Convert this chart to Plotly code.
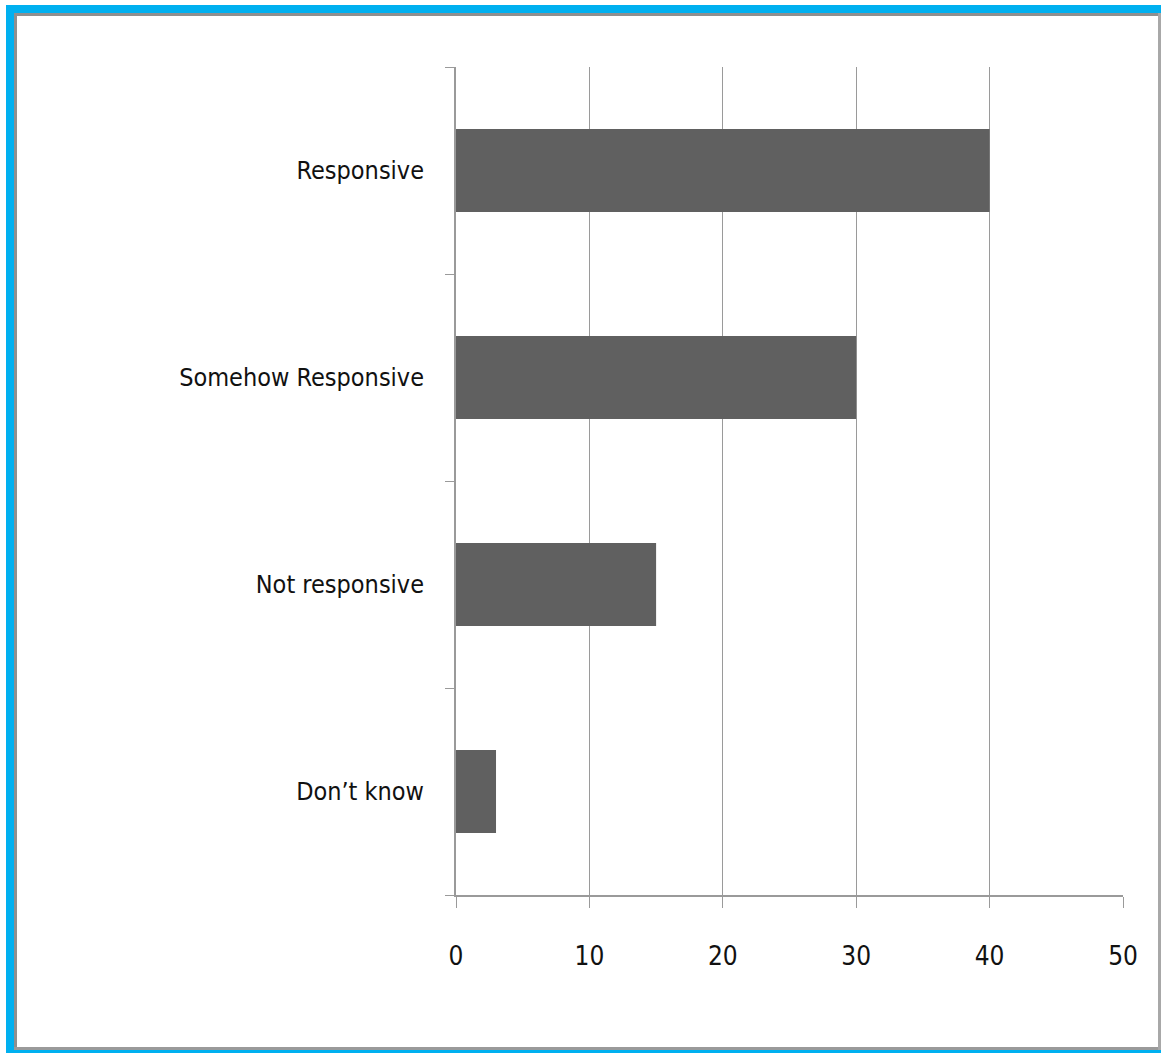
import plotly.graph_objects as go

# Survey responses: how responsive the service was
categories = ["Responsive", "Somehow Responsive", "Not responsive", "Don\u2019t know"]
values = [40, 30, 15, 3]
x_ticks = [0, 10, 20, 30, 40, 50]

W, H = 1161, 1053
L, R, T, B = 456, 1123, 67, 895  # plot area in pixels


def px(x):
    return (x - L) / (R - L)


def py(y):
    return (B - y) / (B - T)


fig = go.Figure(
    go.Bar(
        x=values,
        y=categories,
        orientation="h",
        marker=dict(color="#606060", line=dict(width=0)),
        width=0.4,
        hoverinfo="x+y",
    )
)

font_family = "DejaVu Sans Condensed, Liberation Sans Narrow, Liberation Sans, sans-serif"

fig.update_layout(
    width=W,
    height=H,
    margin=dict(l=L, r=W - R, t=T, b=H - B),
    paper_bgcolor="white",
    plot_bgcolor="white",
    showlegend=False,
    font=dict(family=font_family, size=25, color="#111111"),
    xaxis=dict(
        range=[0, 50],
        tickvals=x_ticks,
        ticktext=[str(v) for v in x_ticks],
        showgrid=True,
        gridcolor="#9a9a9a",
        gridwidth=1.2,
        zeroline=False,
        showline=True,
        linecolor="#9a9a9a",
        linewidth=2,
        ticks="outside",
        ticklen=11,
        tickcolor="#9a9a9a",
        tickfont=dict(size=26),
        ticklabelstandoff=26,
        fixedrange=True,
    ),
    yaxis=dict(
        categoryorder="array",
        categoryarray=categories[::-1],
        showgrid=False,
        zeroline=False,
        showline=True,
        linecolor="#9a9a9a",
        linewidth=2,
        ticks="outside",
        ticklen=9,
        tickcolor="#9a9a9a",
        tickson="boundaries",
        tickfont=dict(size=25),
        ticklabelstandoff=25,
        fixedrange=True,
    ),
)

# Decorative frame around the chart
shapes = [
    # blue outer frame (top, left, bottom)
    dict(x0=px(6), x1=px(W), y0=py(5), y1=py(13), fillcolor="#00b0f0"),
    dict(x0=px(6), x1=px(14), y0=py(5), y1=py(H), fillcolor="#00b0f0"),
    dict(x0=px(6), x1=px(W), y0=py(1050), y1=py(H), fillcolor="#00b0f0"),
    # grey inner border
    dict(x0=px(14), x1=px(1160), y0=py(13), y1=py(16), fillcolor="#8f8f8f"),
    dict(x0=px(14), x1=px(17), y0=py(13), y1=py(1050), fillcolor="#8f8f8f"),
    dict(x0=px(14), x1=px(1161), y0=py(1047), y1=py(1050), fillcolor="#9a9a9a"),
    dict(x0=px(1158), x1=px(1161), y0=py(13), y1=py(1050), fillcolor="#a8a8a8"),
]
fig.update_layout(
    shapes=[
        dict(type="rect", xref="paper", yref="paper", line=dict(width=0), layer="above", **s)
        for s in shapes
    ]
)

fig.write_html("out.html")
